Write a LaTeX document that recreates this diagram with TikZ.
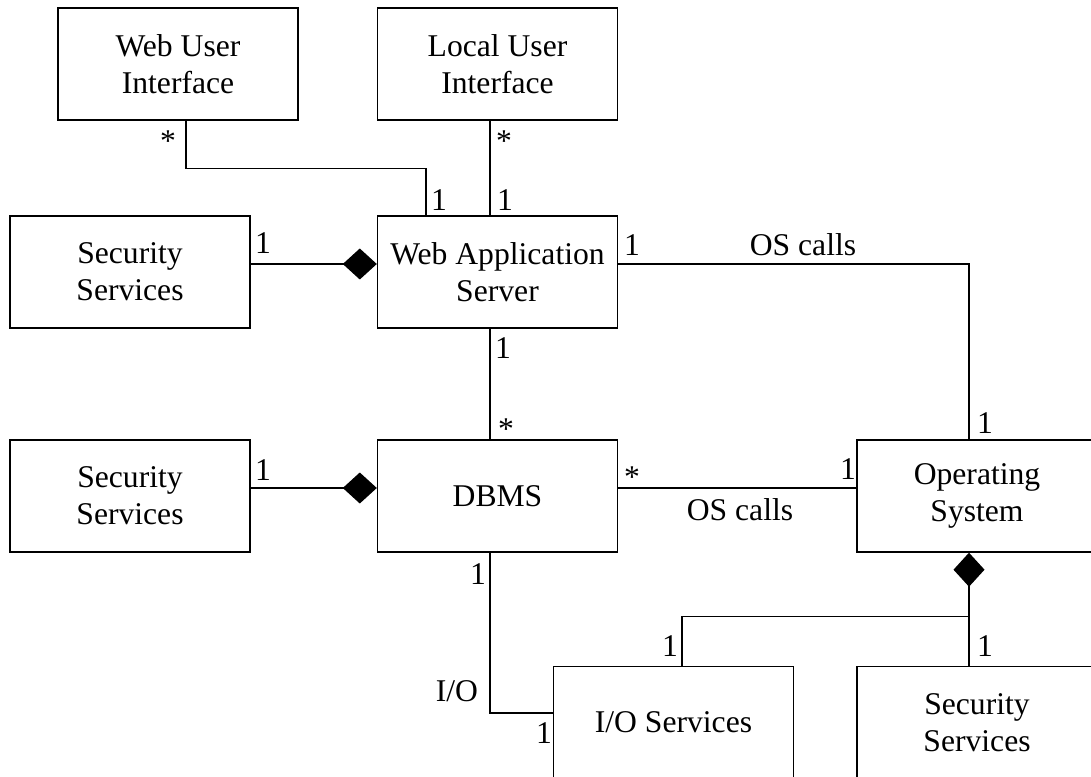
\documentclass[tikz,border=0pt]{standalone}
\usepackage{fontspec}
\setmainfont{Liberation Serif}
\usetikzlibrary{arrows.meta}

\begin{document}
\begin{tikzpicture}[
	font=\fontsize{18}{21}\selectfont,
	line width=0.8pt,
	classbox/.style={draw, minimum width=4.8cm, minimum height=2.24cm, inner sep=0pt, align=center},
	mult/.style={inner sep=0pt},
	comp/.style={-{Diamond[length=0.68cm,width=0.62cm]}}
	]
	\useasboundingbox (0,0) rectangle (21.82,15.52);
	\clip (0,0) rectangle (21.82,15.52);
	% classes
	\node[classbox] (wui) at (3.56,14.24) {Web User\\Interface};
	\node[classbox] (lui) at (9.95,14.24) {Local User\\Interface};
	\node[classbox] (secA) at (2.6,10.08) {Security\\Services};
	\node[classbox] (was) at (9.95,10.08) {Web Application\\Server};
	\node[classbox] (secB) at (2.6,5.6) {Security\\Services};
	\node[classbox] (dbms) at (9.95,5.6) {DBMS};
	\node[classbox] (os) at (19.54,5.6) {Operating\\System};
	\node[classbox] (io) at (13.47,1.07) {I/O Services};
	\node[classbox] (secC) at (19.54,1.07) {Security\\Services};
	% associations
	\draw ([xshift=0.16cm]wui.south) -- ++(0,-0.96) -| ([xshift=-1.43cm]was.north);
	\draw ([xshift=-0.15cm]lui.south) -- ([xshift=-0.15cm]was.north);
	\draw[comp] ([yshift=0.16cm]secA.east) -- ([yshift=0.16cm]was.west);
	\draw ([yshift=0.16cm]was.east) -| ([xshift=-0.16cm]os.north);
	\draw ([xshift=-0.15cm]was.south) -- ([xshift=-0.15cm]dbms.north);
	\draw[comp] ([yshift=0.16cm]secB.east) -- ([yshift=0.16cm]dbms.west);
	\draw ([yshift=0.16cm]dbms.east) -- ([yshift=0.16cm]os.west);
	\draw ([xshift=-0.15cm]dbms.south) |- ([yshift=0.19cm]io.west);
	\coordinate (osjoin) at ([shift={(-0.16,-1.28)}]os.south);
	\draw[{Diamond[length=0.68cm,width=0.62cm]}-] ([xshift=-0.16cm]os.south) -- ([xshift=-0.16cm]secC.north);
	\draw (osjoin) -| ([xshift=0.17cm]io.north);
	% multiplicities and roles
	\node[mult] (m1) at (3.36,12.70) {*};
	\node[mult] (m2) at (8.78,11.52) {1};
	\node[mult] (m3) at (10.08,12.70) {*};
	\node[mult] (m4) at (10.10,11.52) {1};
	\node[mult] (m5) at (5.26,10.66) {1};
	\node[mult] (m6) at (12.64,10.62) {1};
	\node[mult] (r1) at (16.06,10.62) {OS calls};
	\node[mult] (m7) at (19.70,7.06) {1};
	\node[mult] (m8) at (10.06,8.56) {1};
	\node[mult] (m9) at (10.12,6.94) {*};
	\node[mult] (m10) at (5.26,6.12) {1};
	\node[mult] (m11) at (12.64,5.98) {*};
	\node[mult] (m12) at (16.96,6.14) {1};
	\node[mult] (r2) at (14.80,5.32) {OS calls};
	\node[mult] (m13) at (9.56,4.04) {1};
	\node[mult] (r3) at (9.14,1.70) {I/O};
	\node[mult] (m14) at (10.88,0.86) {1};
	\node[mult] (m15) at (13.40,2.60) {1};
	\node[mult] (m16) at (19.70,2.60) {1};
\end{tikzpicture}
\end{document}
